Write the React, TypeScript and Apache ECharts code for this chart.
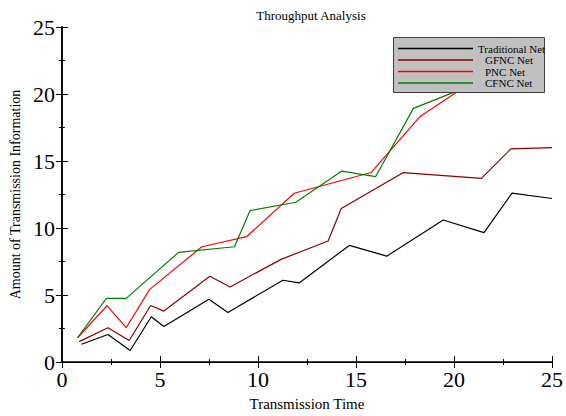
import React, { useEffect, useRef } from "react";
import * as echarts from "echarts";

const seriesNames = ["Traditional Net", "GFNC Net", "PNC Net", "CFNC Net"];
const seriesColors = ["#000000", "#8b0000", "#ff0000", "#008000"];

const tradT = [1.0, 2.35, 3.48, 4.56, 5.2, 7.5, 8.47, 11.27, 12.1, 14.66, 16.57, 19.45, 21.53, 22.96, 25];
const tradV = [1.32, 2.05, 0.86, 3.38, 2.65, 4.68, 3.7, 6.1, 5.9, 8.7, 7.9, 10.6, 9.65, 12.6, 12.2];

const gfncT = [0.88, 2.35, 3.43, 4.53, 5.2, 7.55, 8.58, 11.18, 13.58, 14.25, 17.4, 21.4, 22.9, 25];
const gfncV = [1.52, 2.56, 1.6, 4.22, 3.8, 6.4, 5.6, 7.66, 9.03, 11.45, 14.13, 13.7, 15.9, 16.0];

const pncT = [0.8, 2.3, 3.28, 4.48, 7.14, 9.42, 11.85, 15.77, 18.25, 20.3];
const pncV = [1.81, 4.2, 2.56, 5.42, 8.6, 9.35, 12.59, 14.14, 18.3, 20.3];

const cfncT = [0.8, 2.27, 3.28, 5.95, 8.8, 9.6, 11.93, 14.28, 16.0, 17.93, 20.2];
const cfncV = [1.81, 4.75, 4.75, 8.18, 8.6, 11.3, 11.92, 14.25, 13.83, 18.93, 20.25];

const allT = [tradT, gfncT, pncT, cfncT];
const allV = [tradV, gfncV, pncV, cfncV];

const FONT = "'Liberation Serif', 'Times New Roman', serif";

export default function App() {
  const ref = useRef<HTMLDivElement>(null);
  useEffect(() => {
    if (!ref.current) return;
    const chart = echarts.init(ref.current, undefined, { renderer: "svg" });
    const baseAxis = {
      type: "value" as const,
      min: 0,
      max: 25,
      interval: 5,
      splitLine: { show: false },
      axisLine: { show: true, lineStyle: { color: "#000", width: 1.5 } },
      axisTick: { show: true, inside: true, length: 6, lineStyle: { color: "#000", width: 1 } },
      minorTick: { show: true, splitNumber: 2, length: 3, lineStyle: { color: "#000", width: 1 } },
    };
    chart.setOption({
      animation: false,
      backgroundColor: "#ffffff",
      title: {
        text: "Throughput Analysis",
        left: 306,
        textAlign: "center",
        top: 4,
        textStyle: { fontFamily: FONT, fontSize: 13, fontWeight: "normal", color: "#000" },
      },
      grid: { left: 57.5, right: 11, top: 27, bottom: 54, containLabel: false },
      graphic: [
        {
          type: "rect",
          z: 5,
          shape: { x: 393.5, y: 37.5, width: 151, height: 55 },
          style: { fill: "#c0c0c0", stroke: "#404040", lineWidth: 1 },
        },
      ],
      legend: {
        orient: "vertical",
        left: 398,
        top: 43,
        padding: 0,
        z: 6,
        itemWidth: 75,
        itemHeight: 1.5,
        itemGap: 0.5,
        icon: "rect",
        textStyle: { fontFamily: FONT, fontSize: 11, color: "#000", lineHeight: 11 },
        data: seriesNames.map((n, i) =>
          i === 0 ? { name: n } : { name: n, textStyle: { padding: [0, 0, 0, 7] } }
        ),
      },
      xAxis: [
        {
          ...baseAxis,
          position: "bottom",
          name: "Transmission Time",
          nameLocation: "middle",
          nameGap: 34,
          nameTextStyle: { fontFamily: FONT, fontSize: 15, color: "#000" },
          axisLabel: { fontFamily: FONT, fontSize: 22, color: "#000", margin: 6 },
        },
        {
          ...baseAxis,
          position: "top",
          axisLine: { show: true, lineStyle: { color: "#000", width: 1 } },
          axisLabel: { show: false },
        },
      ],
      yAxis: [
        {
          ...baseAxis,
          position: "left",
          name: "Amount of Transmission Information",
          nameLocation: "middle",
          nameGap: 33,
          nameTextStyle: { fontFamily: FONT, fontSize: 14, color: "#000" },
          axisLabel: { fontFamily: FONT, fontSize: 22, color: "#000", margin: 7 },
        },
        {
          ...baseAxis,
          position: "right",
          axisLine: { show: true, lineStyle: { color: "#000", width: 1.5 } },
          axisLabel: { show: false },
        },
      ],
      series: seriesNames.map((name, i) => ({
        name,
        type: "line",
        xAxisIndex: 0,
        yAxisIndex: 0,
        showSymbol: false,
        symbol: "none",
        color: seriesColors[i],
        lineStyle: { color: seriesColors[i], width: 1.2 },
        data: allT[i].map((t, j) => [t, allV[i][j]]),
      })),
    });
    return () => chart.dispose();
  }, []);
  return <div ref={ref} style={{ width: 566, height: 416, position: "absolute", left: 0, top: 0 }} />;
}
